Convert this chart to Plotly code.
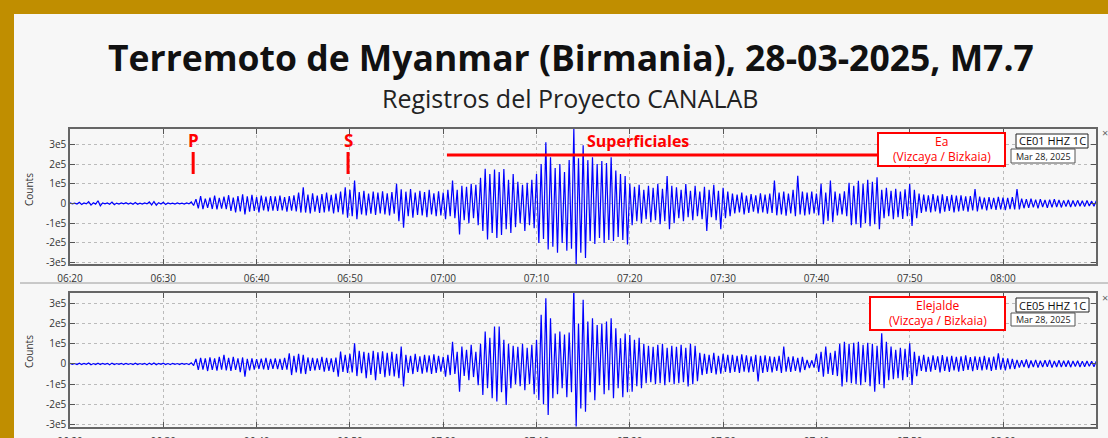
import plotly.graph_objects as go
import pandas as pd

# ---------------- DATA (values in thousands of counts, 30-s bins from 06:20) ----------------
START = "2025-03-28 06:20:00"
END = "2025-03-28 08:09:58"
BIN_SECONDS = 30

ea_up = [3,2,6,3,9,4,14,3,3,7,2,3,4,3,5,2,3,8,10,4,6,3,2,3,2,3,
         8,22,38,25,30,40,28,35,
         42,30,38,47,36,44,32,40,35,38,
         36,40,33,38,42,56,
         82,45,52,40,48,56,44,50,
         60,82,70,
         116,58,64,50,60,55,62,52,58,
         100,72,
         60,73,55,65,58,70,52,62,
         55,70,116,
         70,90,85,100,95,
         130,176,150,172,160,175,120,150,
         110,95,105,120,
         150,200,
         311,
         235,180,200,160,220,
         380,
         230,295,
         220,235,200,215,205,
         235,
         167,150,140,
         100,85,95,70,90,80,100,75,140,90,
         82,70,99,65,90,60,85,70,95,65,80,60,
         50,45,55,40,48,42,52,45,50,
         116,55,60,50,70,141,60,
         55,60,50,100,55,116,60,50,62,
         105,90,115,100,120,110,133,
         70,80,65,75,60,72,
         99,70,
         50,45,42,48,40,46,38,44,40,42,36,38,
         73,
         35,30,32,28,34,30,28,32,
         73,
         25,22,24,20,22,18,20,22,18,16,18,15,16,14,15,12,14]

ea_down = [2,3,5,2,8,3,12,2,4,6,3,2,3,4,4,3,2,7,9,3,5,2,3,2,3,2,
           10,25,29,22,28,30,26,29,
           38,45,40,55,42,38,45,35,40,36,
           38,35,42,36,40,46,
           46,50,42,48,45,40,50,44,
           55,72,65,
           80,55,60,52,58,50,55,60,52,
           90,123,
           65,72,58,60,70,55,65,60,
           80,65,75,
           157,85,100,75,110,
           140,183,150,175,160,130,150,120,
           100,140,110,125,
           200,180,
           233,
           220,250,200,240,230,
           310,
           250,276,
           190,205,175,200,185,
           190,
           170,185,208,
           110,90,100,80,95,85,105,90,131,100,
           75,90,70,85,65,80,140,70,85,131,75,65,
           50,45,55,48,42,50,45,52,48,
           60,55,62,50,65,55,60,
           55,50,60,105,88,95,60,55,65,
           110,105,123,100,115,105,131,
           75,65,80,70,78,65,
           114,75,
           48,42,45,40,50,42,38,45,40,36,42,35,
           40,
           30,35,28,32,30,34,28,30,
           30,
           24,22,20,25,18,22,20,18,20,16,18,15,14,16,13,14,12]

elejalde_up = [3,2,4,3,5,2,4,3,3,4,2,3,3,2,4,2,3,4,5,3,4,2,3,2,3,2,
               6,25,30,28,32,28,35,45,
               30,35,28,32,25,28,24,26,30,25,
               28,25,30,53,40,50,
               45,32,30,28,35,30,28,32,
               61,45,50,
               102,65,60,55,65,58,62,55,60,
               50,86,
               45,40,50,38,45,42,48,40,
               35,45,110,
               60,86,70,95,60,
               100,160,130,185,185,120,100,90,
               85,100,80,95,
               120,243,
               325,
               226,150,160,145,155,
               380,
               200,317,
               210,226,193,200,210,
               226,
               176,127,150,
               143,120,130,100,90,85,95,100,80,90,
               85,95,80,100,90,55,50,45,55,40,50,45,
               45,40,48,42,38,45,40,42,38,
               35,40,86,35,38,30,35,
               20,18,50,60,86,55,65,100,110,
               100,105,110,95,105,100,90,
               152,110,86,70,80,75,
               102,60,
               40,45,35,42,38,44,36,40,35,38,42,34,
               38,35,40,32,36,53,30,28,25,
               20,18,22,17,20,16,18,20,15,18,16,17,15,16,14,15,13,14]

elejalde_down = [2,3,3,2,4,3,3,2,4,3,2,3,2,3,3,2,4,3,4,2,3,3,2,3,2,3,
                 8,30,28,35,30,33,28,32,
                 35,30,40,63,32,28,25,27,30,24,
                 26,30,28,55,42,48,
                 50,35,32,30,38,34,40,63,
                 40,45,42,
                 60,46,70,55,80,50,65,58,62,
                 70,112,
                 45,50,40,48,42,50,45,38,
                 63,55,50,
                 137,60,80,65,105,
                 153,120,170,186,140,203,120,100,
                 110,130,100,150,
                 178,200,
                 252,
                 170,150,120,165,140,
                 310,
                 220,236,
                 140,180,105,150,130,
                 170,
                 120,165,140,
                 137,110,120,95,90,100,95,105,90,100,
                 95,90,112,100,85,55,50,45,52,48,40,45,
                 40,45,38,42,40,87,45,40,42,
                 35,45,38,40,35,42,30,
                 20,18,40,63,50,55,60,112,90,
                 95,100,105,90,110,137,100,
                 120,80,75,70,80,65,
                 104,60,
                 35,40,38,30,42,35,40,32,38,34,30,36,
                 30,32,28,35,30,28,32,26,25,
                 18,16,20,15,18,16,14,18,15,16,14,16,13,15,14,12,14,13]

y_tickvals = [300000, 200000, 100000, 0, -100000, -200000, -300000]
y_ticktext = ["3e5", "2e5", "1e5", "0", "-1e5", "-2e5", "-3e5"]

P_TIME = "2025-03-28 06:33:12"
S_TIME = "2025-03-28 06:49:48"
SURF_TIME = "2025-03-28 07:00:24"
SURF_END = "2025-03-28 07:46:30"

# ---------------- helpers ----------------
W, H = 1108, 438
def xp(px): return px / W
def yp(py): return 1 - py / H

def build_trace(up, down):
    n = min(len(up), len(down))
    base = pd.Timestamp("2025-03-28 06:20:00")
    xs, ys = [], []
    for i in range(n):
        t = base + pd.Timedelta(seconds=i * BIN_SECONDS)
        xs.append(t.strftime("%Y-%m-%d %H:%M:%S"))
        ys.append(up[i] * 1000)
        t2 = t + pd.Timedelta(seconds=BIN_SECONDS / 2)
        xs.append(t2.strftime("%Y-%m-%d %H:%M:%S"))
        ys.append(-down[i] * 1000)
    return xs, ys

fig = go.Figure()
x1, y1 = build_trace(ea_up, ea_down)
x2, y2 = build_trace(elejalde_up, elejalde_down)
fig.add_trace(go.Scatter(x=x1, y=y1, mode="lines", line=dict(color="#0000FF", width=1.2),
                         xaxis="x", yaxis="y", showlegend=False, hoverinfo="skip"))
fig.add_trace(go.Scatter(x=x2, y=y2, mode="lines", line=dict(color="#0000FF", width=1.2),
                         xaxis="x2", yaxis="y2", showlegend=False, hoverinfo="skip"))

xdom = [xp(70), xp(1096)]
axis_common = dict(showline=True, linecolor="#666666", linewidth=1.5, mirror="ticks",
                   ticks="inside", ticklen=5, tickcolor="#555555", automargin=False,
                   showgrid=True, gridcolor="#BBBBBB", griddash="dot", gridwidth=1,
                   zeroline=False, tickfont=dict(family="Open Sans", size=10, color="#333333"))
xaxis_extra = dict(type="date", range=["2025-03-28 06:20:00", END], tick0="2025-03-28 06:20:00",
                   dtick=600000, tickformat="%H:%M", ticklabelstandoff=4)

fig.update_layout(
    width=W, height=H,
    margin=dict(l=0, r=0, t=0, b=0, autoexpand=False),
    paper_bgcolor="#F7F7F7", plot_bgcolor="#F7F7F7",
    xaxis=dict(domain=xdom, anchor="y", **xaxis_extra, **axis_common),
    yaxis=dict(domain=[yp(264), yp(129)], anchor="x", range=[-307000, 378000],
               tickvals=y_tickvals, ticktext=y_ticktext, **axis_common),
    xaxis2=dict(domain=xdom, anchor="y2", **xaxis_extra, **axis_common),
    yaxis2=dict(domain=[yp(427), yp(293)], anchor="x2", range=[-312000, 351000],
                tickvals=y_tickvals, ticktext=y_ticktext, **axis_common),
)

shapes = []
ann = []
GOLD = "#C08E00"
RED = "#FF0000"
# gold frame (top and left)
shapes.append(dict(type="rect", xref="paper", yref="paper", x0=0, x1=1, y0=yp(14), y1=1,
                   fillcolor=GOLD, line=dict(width=0), layer="above"))
shapes.append(dict(type="rect", xref="paper", yref="paper", x0=0, x1=xp(14), y0=0, y1=1,
                   fillcolor=GOLD, line=dict(width=0), layer="above"))
# panel separator
shapes.append(dict(type="line", xref="paper", yref="paper", x0=xp(20), x1=1, y0=yp(283), y1=yp(283),
                   line=dict(color="#9A9A9A", width=1)))

# titles
ann.append(dict(text="<b>Terremoto de Myanmar (Birmania), 28-03-2025, M7.7</b>", xref="paper", yref="paper",
                x=xp(571), y=yp(57), showarrow=False, xanchor="center", yanchor="middle",
                font=dict(family="Open Sans", size=35.5, color="#111111")))
ann.append(dict(text="Registros del Proyecto CANALAB", xref="paper", yref="paper",
                x=xp(570), y=yp(98), showarrow=False, xanchor="center", yanchor="middle",
                font=dict(family="Open Sans", size=25, color="#222222")))

# y axis titles
for yc in (190, 352):
    ann.append(dict(text="Counts", xref="paper", yref="paper", x=xp(29), y=yp(yc), textangle=-90,
                    showarrow=False, xanchor="center", yanchor="middle",
                    font=dict(family="Open Sans", size=10, color="#333333")))

# P and S markers (top panel)
for lab, t in (("P", P_TIME), ("S", S_TIME)):
    ann.append(dict(text="<b>%s</b>" % lab, xref="x", yref="paper", x=t, y=yp(141), showarrow=False,
                    xanchor="center", yanchor="middle", font=dict(family="Open Sans", size=17, color=RED)))
    shapes.append(dict(type="line", xref="x", yref="paper", x0=t, x1=t, y0=yp(152), y1=yp(174),
                       line=dict(color=RED, width=3)))

# surface waves bar
shapes.append(dict(type="line", xref="x", yref="paper", x0=SURF_TIME, x1=SURF_END,
                   y0=yp(155), y1=yp(155), line=dict(color=RED, width=3)))
ann.append(dict(text="<b>Superficiales</b>", xref="paper", yref="paper", x=xp(638), y=yp(141),
                showarrow=False, xanchor="center", yanchor="middle",
                font=dict(family="Open Sans", size=16, color=RED)))

def box(x0, x1, y0, y1, color, width):
    shapes.append(dict(type="rect", xref="paper", yref="paper", x0=xp(x0), x1=xp(x1), y0=yp(y1), y1=yp(y0),
                       fillcolor="#FFFFFF", line=dict(color=color, width=width), layer="above"))

def label(text, xc, yc, size, color):
    ann.append(dict(text=text, xref="paper", yref="paper", x=xp(xc), y=yp(yc), showarrow=False,
                    xanchor="center", yanchor="middle", font=dict(family="Open Sans", size=size, color=color)))

# station boxes, panel 1
box(878, 1005, 133, 166, RED, 2)
label("Ea", 941.5, 141.5, 12, RED)
label("(Vizcaya / Bizkaia)", 941.5, 156.5, 12, RED)
box(1016, 1088, 134, 148, "#222222", 1)
label("CE01 HHZ 1C", 1052, 141, 11, "#111111")
box(1011, 1075, 149, 163, "#555555", 1)
label("Mar 28, 2025", 1043, 156, 9, "#222222")
label("×", 1105, 133, 11, "#666666")

# station boxes, panel 2
box(870, 1005, 297, 330, RED, 2)
label("Elejalde", 937.5, 305.5, 12, RED)
label("(Vizcaya / Bizkaia)", 937.5, 320.5, 12, RED)
box(1016, 1089, 298, 312, "#222222", 1)
label("CE05 HHZ 1C", 1052.5, 305, 11, "#111111")
box(1011, 1075, 313, 326, "#555555", 1)
label("Mar 28, 2025", 1043, 319.5, 9, "#222222")
label("×", 1105, 297, 11, "#666666")

fig.update_layout(shapes=shapes, annotations=ann)
fig.write_html("out.html", config={"displayModeBar": False},
               post_script="document.body.style.margin='0';document.body.style.overflow='hidden';")
